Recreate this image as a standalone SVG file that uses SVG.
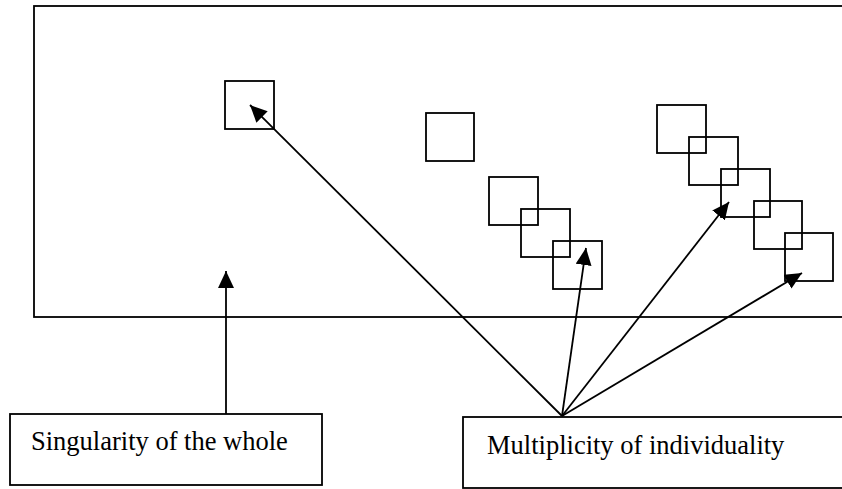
<svg xmlns="http://www.w3.org/2000/svg" width="842" height="489" viewBox="0 0 842 489">
  <style>
    .frame { fill: none; stroke: #000; stroke-width: 1.8; }
    .sq { fill: none; stroke: #000; stroke-width: 1.8; }
    .box { fill: #fff; stroke: #000; stroke-width: 1.8; }
    .conn { fill: none; stroke: #000; stroke-width: 1.8; marker-end: url(#head); }
    .label { font-family: "Liberation Serif", "Times New Roman", serif; font-size: 26.5px; fill: #000; }
  </style>
  <defs>
    <marker id="head" markerUnits="userSpaceOnUse" markerWidth="18" markerHeight="16" refX="17" refY="8" orient="auto">
      <path d="M0,0 L17,8 L0,16 Z" fill="#000"/>
    </marker>
  </defs>
  <rect width="842" height="489" fill="#fff"/>

  <!-- the whole -->
  <g id="whole">
    <rect class="frame" x="34" y="6" width="830" height="311"/>
  </g>

  <!-- individual squares -->
  <g id="single-a"><rect class="sq" x="225" y="81" width="49" height="48"/></g>
  <g id="single-b"><rect class="sq" x="426" y="113" width="48" height="48"/></g>
  <g id="chain-3">
    <rect class="sq" x="489" y="177" width="49" height="48"/>
    <rect class="sq" x="521" y="209" width="49" height="48"/>
    <rect class="sq" x="553" y="241" width="49" height="48"/>
  </g>
  <g id="chain-5">
    <rect class="sq" x="657" y="105" width="49" height="48"/>
    <rect class="sq" x="689" y="137" width="49" height="48"/>
    <rect class="sq" x="721" y="169" width="49" height="48"/>
    <rect class="sq" x="754" y="201" width="48" height="48"/>
    <rect class="sq" x="785" y="233" width="48" height="48"/>
  </g>

  <!-- label boxes -->
  <g id="singularity">
    <rect class="box" x="10" y="414" width="312" height="71"/>
    <text class="label" x="31" y="450">Singularity of the whole</text>
  </g>
  <g id="multiplicity">
    <rect class="box" x="463" y="417" width="400" height="71"/>
    <text class="label" x="487" y="454">Multiplicity of individuality</text>
  </g>

  <!-- connectors -->
  <g id="connectors">
    <line class="conn" x1="226" y1="414" x2="226" y2="271"/>
    <line class="conn" x1="562" y1="416" x2="250" y2="105"/>
    <line class="conn" x1="562" y1="416" x2="586" y2="248"/>
    <line class="conn" x1="562" y1="416" x2="729" y2="202"/>
    <line class="conn" x1="562" y1="416" x2="802" y2="273"/>
  </g>
</svg>
